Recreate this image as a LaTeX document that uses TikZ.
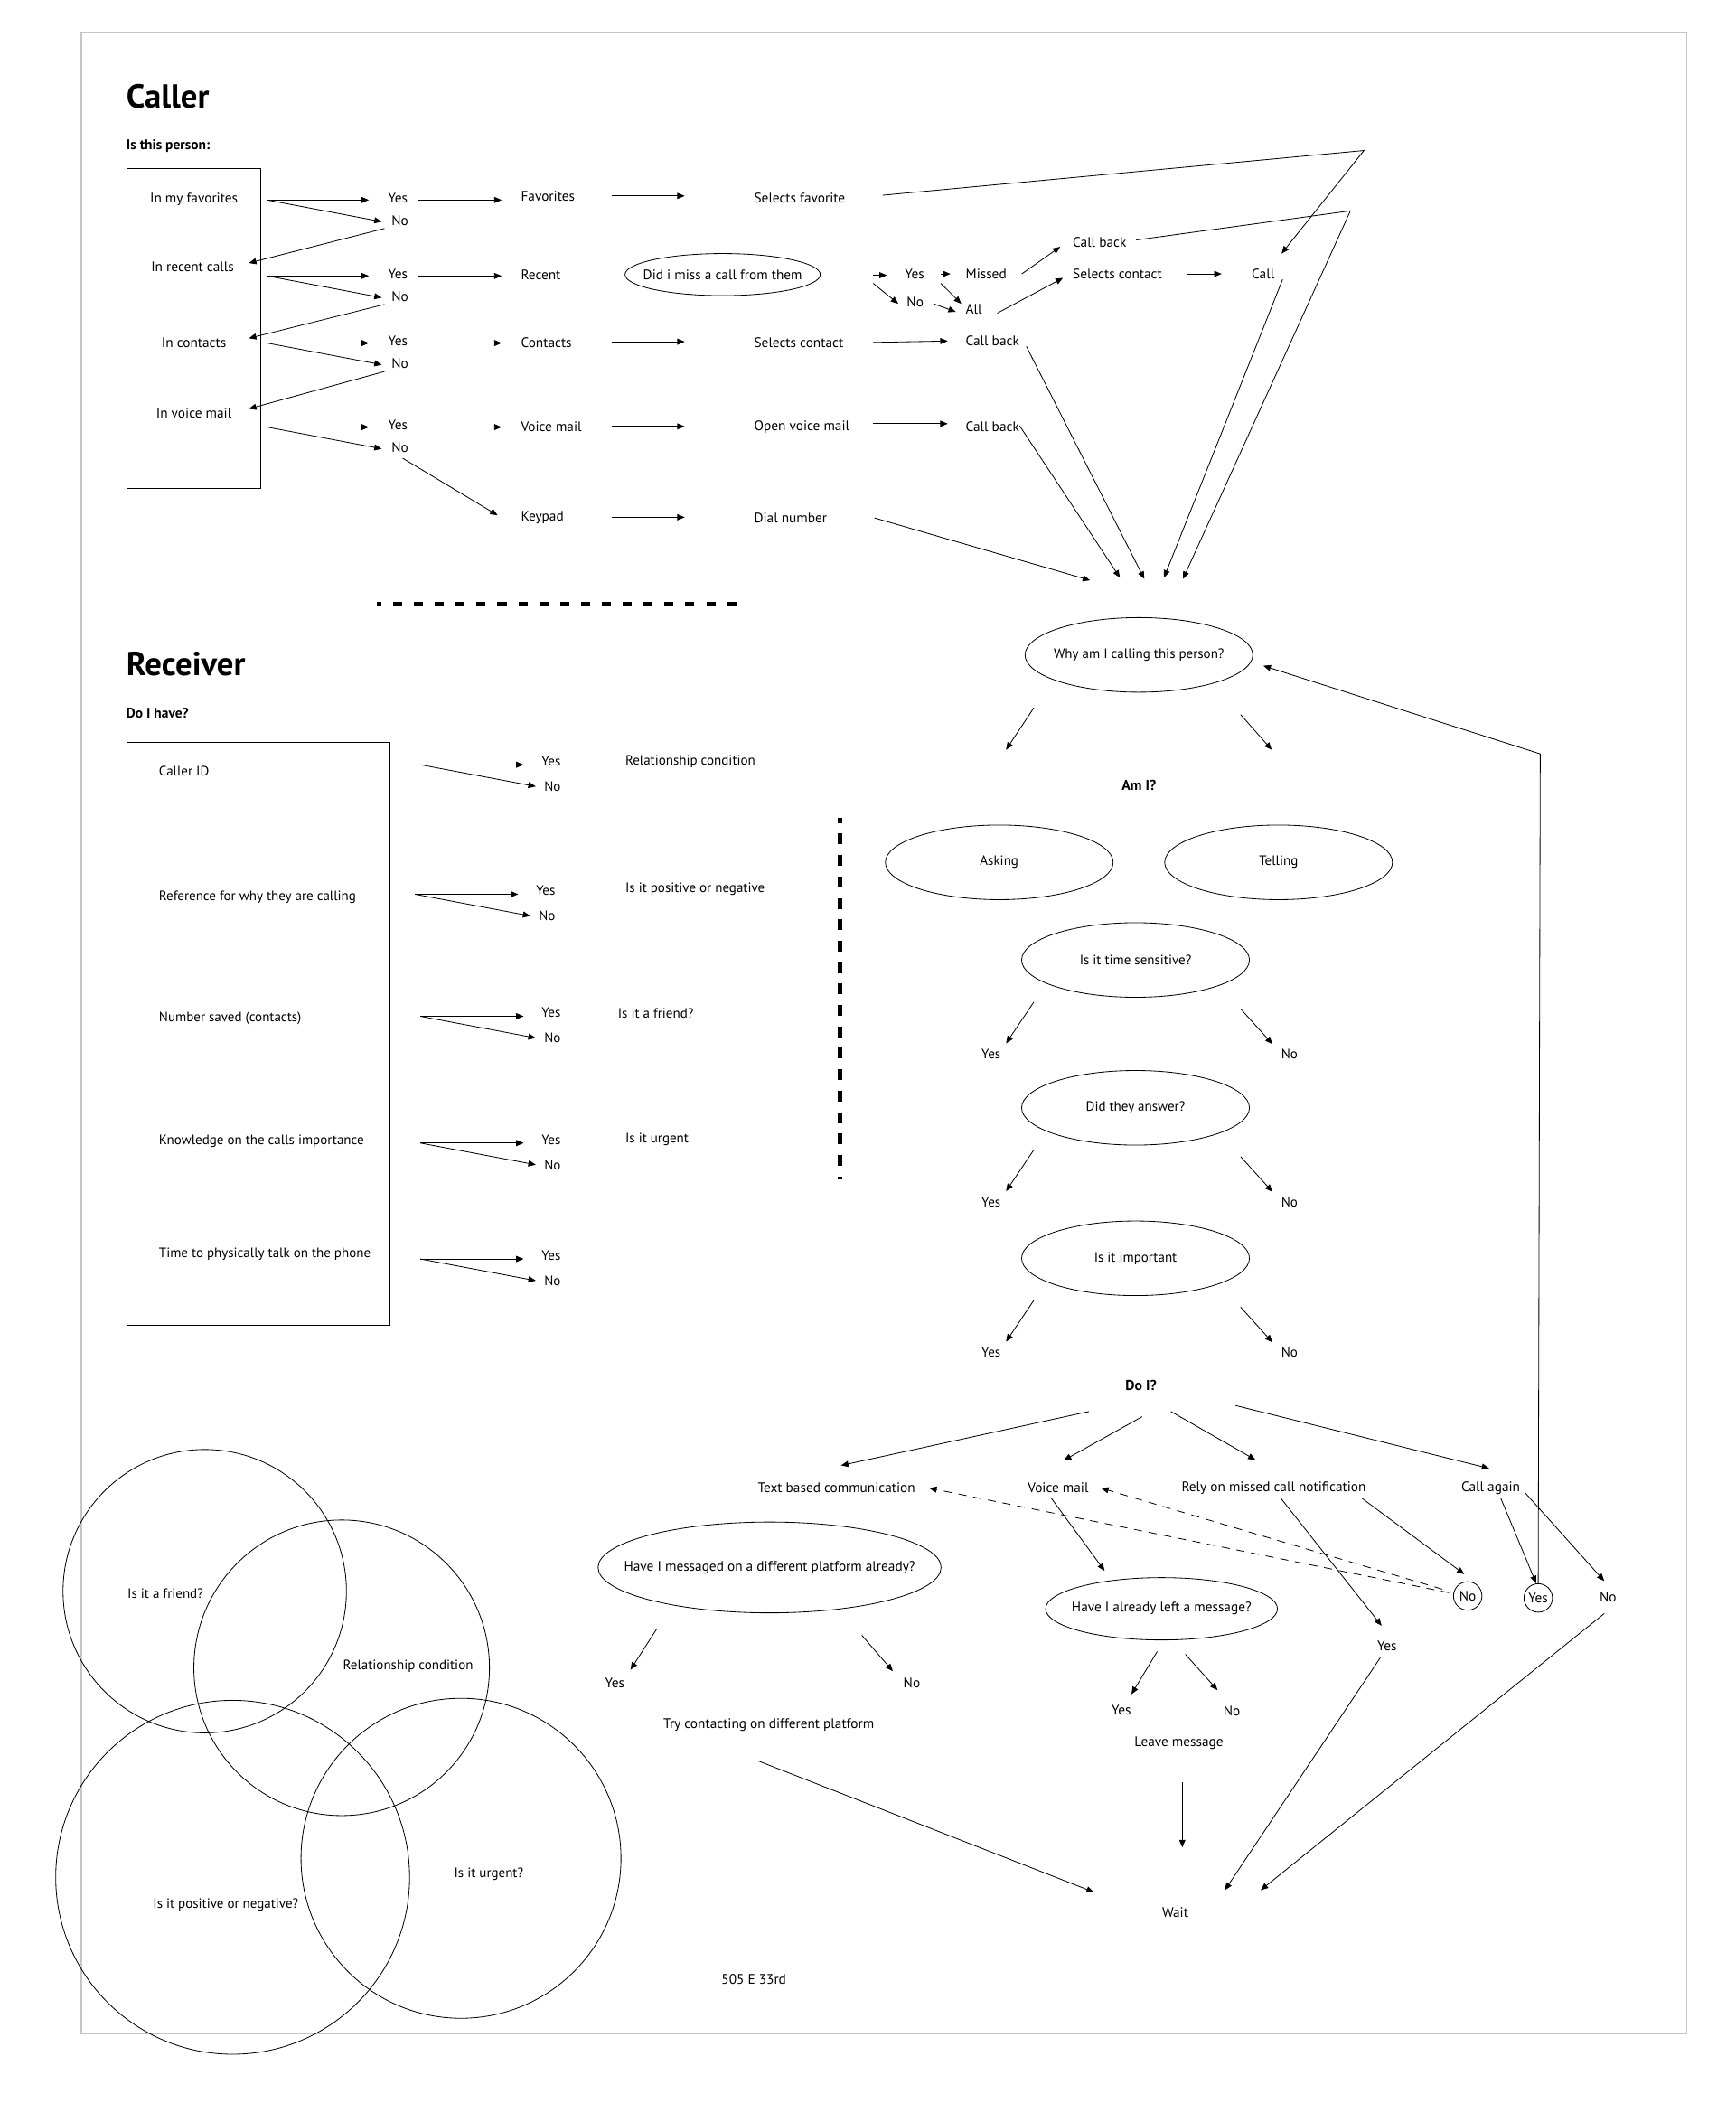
\documentclass[tikz,border=0pt]{standalone}
\usepackage{fontspec}
\setmainfont{PT Sans}
\usetikzlibrary{arrows.meta}
\usetikzlibrary{calc}
\usetikzlibrary{positioning}
\usetikzlibrary{shapes.geometric}

\tikzset{
  heading/.style={inner sep=0pt, anchor=west, font=\fontsize{24.5}{28}\selectfont\bfseries},
  subhead/.style={inner sep=0pt, anchor=west, font=\fontsize{10.3}{12}\selectfont\bfseries},
  lbl/.style={inner sep=1pt, font=\fontsize{10.2}{12}\selectfont},
  rlbl/.style={inner sep=1pt, font=\fontsize{10}{12}\selectfont},
  rbold/.style={inner sep=1pt, font=\fontsize{10.5}{12}\selectfont\bfseries},
  oval/.style 2 args={draw, ellipse, inner sep=0pt, minimum width=#1pt, minimum height=#2pt},
  venn/.style={draw, circle, inner sep=0pt, minimum size=#1},
  arr/.style={-{Triangle[length=5.5pt,width=4.5pt]}},
  thickdash/.style={line width=2.7pt, dash pattern=on 6.7pt off 8.7pt, dash phase=3.5pt},
  backdash/.style={dash pattern=on 6pt off 5pt},
}

\begin{document}
\begin{tikzpicture}[x=1pt,y=-1pt,line width=0.55pt]
\useasboundingbox (0,0) rectangle (1280,1565);
\draw[gray!45, line width=0.8pt] (60,24) rectangle (1244,1500);

% ---------------- caller
\node[heading] (caller) at (93,71) {Caller};
\node[subhead] (isthis) at (93,108) {Is this person:};
\node[draw, inner sep=0pt, minimum width=99pt, minimum height=236pt, anchor=north west] (cbox) at (93,124) {};
\node[lbl] (infav) at (143,147) {In my favorites};
\node[lbl] (inrec) at (142,197) {In recent calls};
\node[lbl] (incon) at (143,252.5) {In contacts};
\node[lbl] (invm) at (143,304.5) {In voice mail};

\foreach \n/\yy in {1/147.5,2/203.5,3/253,4/315}{
  \coordinate (cf\n) at (197,\yy);
  \node[lbl] (cyes\n) at (293.5,\yy-1.5) {Yes};
  \node[lbl] (cno\n) at (295,\yy+15) {No};
  \draw[arr] (cf\n) -- ($(cyes\n.west |- cf\n)+(-13,0)$);
  \draw[arr] (cf\n) -- ($(cno\n.west)+(-6,1)$);
}
\foreach \a/\b in {1/inrec,2/incon,3/invm}
  \draw[arr] ($(cno\a.west)+(-4,6)$) -- ($(cbox.east |- \b)+(-9,-3)$);

\node[lbl, anchor=west] (favs) at (383,145) {Favorites};
\node[lbl, anchor=west] (recent) at (383,202.5) {Recent};
\node[lbl, anchor=west] (contacts) at (383,252.5) {Contacts};
\node[lbl, anchor=west] (vmail) at (383,315) {Voice mail};
\node[lbl, anchor=west] (keypad) at (383,382) {Keypad};
\foreach \n/\m in {1/favs,2/recent,3/contacts,4/vmail}
  \draw[arr] ($(cyes\n.east |- cf\n)+(6,0)$) -- ($(\m.west |- cf\n)+(-13,0)$);
\draw[arr] ($(cno4.south)+(2,3)$) -- ($(keypad.west)+(-16,-2)$);

\node[lbl, anchor=west] (selfav) at (555,146) {Selects favorite};
\node[lbl, anchor=west] (selcon) at (555,252.5) {Selects contact};
\node[lbl, anchor=west] (openvm) at (555,315) {Open voice mail};
\node[lbl, anchor=west] (dial) at (555,382) {Dial number};
\foreach \m/\k in {favs/selfav,contacts/selcon,vmail/openvm,keypad/dial}
  \draw[arr] ($(\m.west)+(68,-0.5)$) -- ($(\k.west |- \m.west)+(-50,-0.5)$);

% missed call branch
\node[oval={144}{31}] (didmiss) at (533,202.5) {};
\node[lbl] (didmisst) at (didmiss) {Did i miss a call from them};
\coordinate (fork) at (644,203);
\node[lbl] (myes) at (674.5,202) {Yes};
\node[lbl] (mno) at (675,223) {No};
\draw[arr] (fork) -- ($(myes.west)+(-12,1)$);
\draw[arr] ($(fork)+(0,6)$) -- ($(mno.west)+(-5,1)$);
\node[lbl, anchor=west] (missed) at (711,202) {Missed};
\node[lbl, anchor=west] (all) at (711,228) {All};
\draw[arr] ($(myes.east)+(11,0)$) -- ($(missed.west)+(-10,0)$);
\draw[arr] ($(myes.east)+(11,7)$) -- ($(all.west)+(-2,-4)$);
\draw[arr] ($(mno.east)+(6,1)$) -- ($(all.west)+(-6,2)$);
\node[lbl, anchor=west] (cbtop) at (790,179) {Call back};
\node[lbl, anchor=west] (selcon2) at (790,202) {Selects contact};
\node[lbl, anchor=west] (call) at (922,202) {Call};
\draw[arr] ($(missed.east)+(10,0)$) -- ($(cbtop.west)+(-8,3)$);
\draw[arr] ($(all.east)+(10,3)$) -- ($(selcon2.west)+(-6,3)$);
\draw[arr] ($(selcon2.west)+(86,0)$) -- ($(call.west)+(-21,0)$);

\node[lbl, anchor=west] (cbcon) at (711,251.5) {Call back};
\node[lbl, anchor=west] (cbvm) at (711,315) {Call back};
\draw[arr] ($(selcon.west)+(89,0)$) -- ($(cbcon.west)+(-12,0)$);
\draw[arr] ($(openvm.west)+(89,-2.5)$) -- ($(cbvm.west)+(-12,-2.5)$);

% into the receiver
\coordinate (tr1) at (1006,111);
\coordinate (tr2) at (996,155.5);
\coordinate (m1) at (804,428);
\coordinate (m2) at (826,426);
\coordinate (m3) at (844,427);
\coordinate (m4) at (858.5,426);
\coordinate (m5) at (872.5,427);
\draw[arr] ($(selfav.west)+(96,-2)$) -- (tr1) -- ($(call.north east)+(4,-10)$);
\draw[arr] ($(cbtop.west)+(48,-2)$) -- (tr2) -- (m5);
\draw[arr] ($(call.west)+(24,4)$) -- (m4);
\draw[arr] ($(cbcon.west)+(46,4)$) -- (m3);
\draw[arr] ($(cbvm.west)+(41,-1)$) -- (m2);
\draw[arr] ($(dial.west)+(90,0)$) -- (m1);

\draw[thickdash] (278,445) -- (547,445);

% ---------------- receiver
\node[heading] (receiver) at (93,490) {Receiver};
\node[subhead] (dohave) at (93,526) {Do I have?};
\node[draw, inner sep=0pt, minimum width=194pt, minimum height=430pt, anchor=north west] (rbox) at (93.5,547) {};
\foreach \n/\yy/\t in {1/569/Caller ID,2/662/Reference for why they are calling,3/751/Number saved (contacts),4/841.5/Knowledge on the calls importance,5/925/Time to physically talk on the phone}
  \node[rlbl, anchor=west] (have\n) at (116,\yy) {\t};
\foreach \n/\yy/\dx in {1/564/0,2/659.5/-4,3/749.5/0,4/843/0,5/928.5/0}{
  \coordinate (hf\n) at (310+\dx,\yy);
  \node[rlbl] (hyes\n) at (406.5+\dx,\yy-2.5) {Yes};
  \node[rlbl] (hno\n) at (407.5+\dx,\yy+16) {No};
  \draw[arr] (hf\n) -- ($(hyes\n.west |- hf\n)+(-12,0)$);
  \draw[arr] (hf\n) -- ($(hno\n.west)+(-5,0)$);
}
\node[rlbl, anchor=west] (relcond) at (460,562) {Relationship condition};
\node[rlbl, anchor=west] (posneg) at (460,656) {Is it positive or negative};
\node[rlbl, anchor=west] (friend) at (454.5,747) {Is it a friend?};
\node[rlbl, anchor=west] (urgent) at (460,840) {Is it urgent};

\draw[line width=3.2pt, dash pattern=on 8pt off 7.8pt, dash phase=4pt] (619.5,603) -- (619.5,870);

% why / am I
\node[oval={168}{55}] (why) at (840,483) {};
\node[rlbl] (whyt) at (why) {Why am I calling this person?};
\draw[arr] ($(why)+(-77.5,39)$) -- ($(why)+(-98,70)$);
\draw[arr] ($(why)+(75,44)$) -- ($(why)+(98,70)$);
\node[rbold] (ami) at (840,579) {Am I?};
\node[oval={168}{55}] (asking) at (737,636) {};
\node[rlbl] (askingt) at (asking) {Asking};
\node[oval={168}{55}] (telling) at (943,636) {};
\node[rlbl] (tellingt) at (telling) {Telling};
\foreach \n/\yy/\t in {1/708/Is it time sensitive?,2/817/Did they answer?,3/928/Is it important}{
  \node[oval={168}{55}] (q\n) at (837.5,\yy) {};
  \node[rlbl] (qt\n) at (q\n) {\t};
  \node[rlbl] (qy\n) at (731,\yy+69.5) {Yes};
  \node[rlbl] (qn\n) at (951,\yy+69.5) {No};
  \draw[arr] ($(q\n)+(-75,31)$) -- ($(qy\n)+(11,-8)$);
  \draw[arr] ($(q\n)+(77.5,36)$) -- ($(qn\n)+(-12.5,-7.5)$);
}
\node[rbold] (doi) at (841.5,1022) {Do I?};

% ---------------- do I?
\node[lbl] (textc) at (617,1097.5) {Text based communication};
\node[lbl] (vm2) at (780.5,1097.5) {Voice mail};
\node[lbl] (rely) at (939.5,1097.5) {Rely on missed call notification};
\node[lbl] (again) at (1099.5,1097.5) {Call again};
\draw[arr] ($(doi)+(-38.3,19)$) -- ($(textc)+(3.3,-16.7)$);
\draw[arr] ($(doi)+(0.9,22.8)$) -- ($(vm2)+(4.1,-20.5)$);
\draw[arr] ($(doi)+(22.1,19)$) -- ($(rely)+(-13.5,-20.8)$);
\draw[arr] ($(doi)+(69.8,14.6)$) -- ($(again)+(-1.1,-14.5)$);

\node[draw, circle, inner sep=0pt, minimum size=21pt, lbl] (noc) at (1082.5,1177) {No};
\node[draw, circle, inner sep=0pt, minimum size=21pt, lbl] (yesc) at (1134.5,1178.5) {Yes};
\node[lbl] (nocall) at (1186,1178) {No};
\node[lbl] (ryes) at (1023,1214) {Yes};
\node[lbl] (wait) at (866.8,1410.5) {Wait};

\draw[arr, backdash] ($(noc.west)+(-3,-2.4)$) -- ($(textc.east)+(9,0)$);
\draw[arr, backdash] ($(noc.west)+(-8,-5)$) -- ($(vm2.east)+(8,0)$);
\draw[arr] ($(rely)+(5.2,7.5)$) -- ($(ryes)+(-4,-15)$);
\draw[arr] ($(rely)+(65,7.5)$) -- ($(noc)+(-2.5,-16)$);
\draw[arr] ($(again)+(7.4,7.5)$) -- ($(yesc.north)+(-1.5,0)$);
\draw[arr] ($(again)+(25.4,3.5)$) -- ($(nocall)+(-2.8,-12)$);
\coordinate (fbk) at (1136,556);
\draw[arr] (yesc.north) -- (fbk) -- ($(why.east)+(7.5,8)$);

% text branch
\node[oval={253}{67}] (msgq) at (567.6,1156) {};
\node[lbl] (msgqt) at (msgq) {Have I messaged on a different platform already?};
\node[lbl] (myes2) at (453.5,1241) {Yes};
\node[lbl] (mno2) at (672.5,1241) {No};
\draw[arr] ($(msgq)+(-83,45)$) -- ($(myes2)+(11.5,-9.5)$);
\draw[arr] ($(msgq)+(68,50)$) -- ($(mno2)+(-14,-8.5)$);
\node[lbl] (tryc) at (567,1272) {Try contacting on different platform};
\draw[arr] ($(tryc)+(-8,26.6)$) -- ($(wait)+(-60,-15)$);

% voice mail branch
\node[oval={171}{46}] (leftq) at (856.7,1186.5) {};
\node[lbl] (leftqt) at (leftq) {Have I already left a message?};
\draw[arr] ($(vm2.south)+(-5.5,2)$) -- ($(leftq)+(-42,-28)$);
\node[lbl] (lyes) at (827,1261.5) {Yes};
\node[lbl] (lno) at (908.5,1261.5) {No};
\draw[arr] ($(leftq)+(-3.2,31.5)$) -- ($(lyes)+(7.5,-12)$);
\draw[arr] ($(leftq)+(17.5,33.5)$) -- ($(lno)+(-10.5,-15)$);
\node[lbl] (leave) at (869.5,1285.5) {Leave message};
\draw[arr] ($(leave)+(2.5,29)$) -- ($(wait)+(5.2,-48)$);
\draw[arr] ($(ryes)+(-5,8.6)$) -- ($(wait)+(36.6,-16.5)$);
\draw[arr] ($(nocall)+(-2.8,12)$) -- ($(wait)+(63,-16.5)$);

\node[lbl] (addr) at (556,1460) {505 E 33rd};

% ---------------- venn
\node[venn=209pt] (vfriend) at (151,1173.5) {};
\node[venn=218pt] (vrel) at (252,1230) {};
\node[venn=261pt] (vpos) at (171.6,1384.5) {};
\node[venn=236pt] (vurg) at (340,1370.5) {};
\node[rlbl] (vfriendt) at (122,1175.5) {Is it a friend?};
\node[rlbl] (vrelt) at (301,1229) {Relationship condition};
\node[rlbl] (vurgt) at (360.5,1382) {Is it urgent?};
\node[rlbl] (vpost) at (166.5,1405) {Is it positive or negative?};
\end{tikzpicture}
\end{document}
